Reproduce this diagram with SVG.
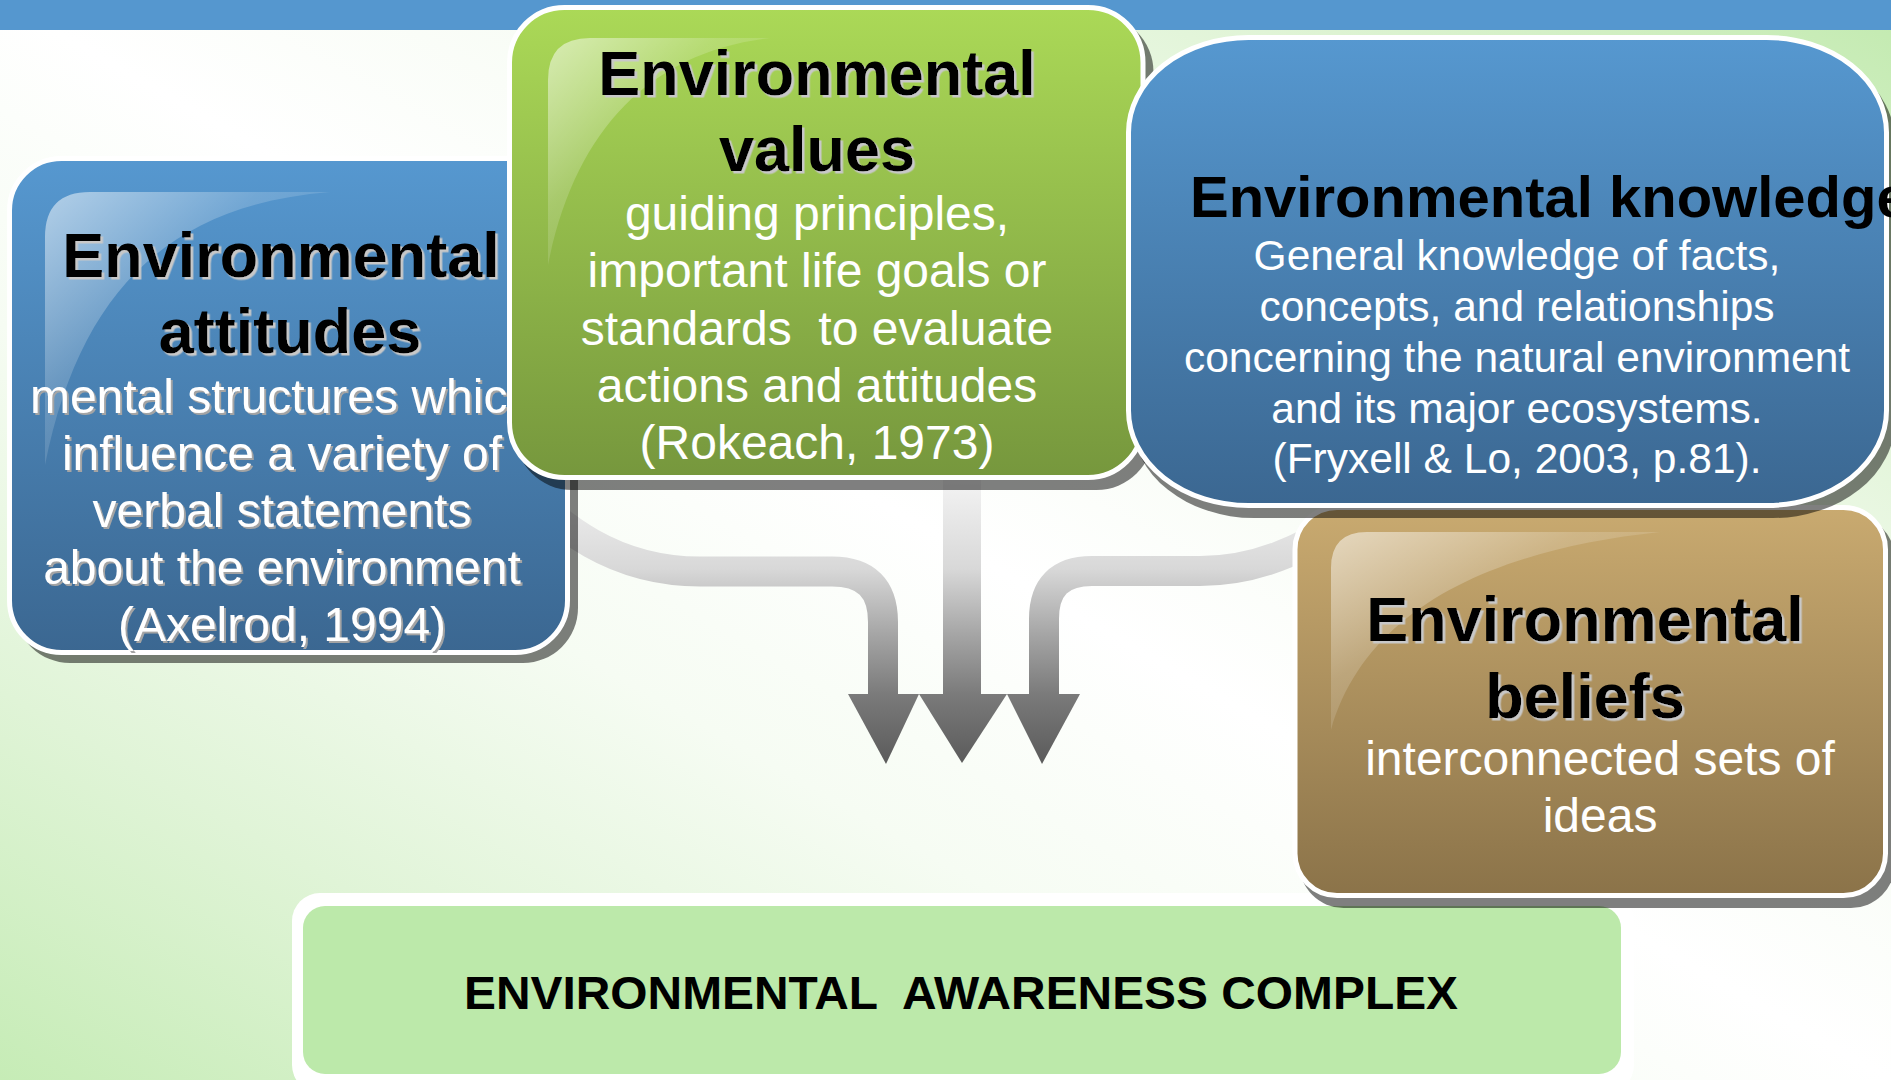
<svg xmlns="http://www.w3.org/2000/svg" width="1891" height="1080" viewBox="0 0 1891 1080">
  <defs>
    <linearGradient id="bg" x1="0" y1="1" x2="1" y2="0">
      <stop offset="0" stop-color="#c6ecb6"/>
      <stop offset="0.18" stop-color="#e0f4d7"/>
      <stop offset="0.35" stop-color="#f6fcf3"/>
      <stop offset="0.5" stop-color="#ffffff"/>
      <stop offset="0.65" stop-color="#f7fcf4"/>
      <stop offset="0.82" stop-color="#e0f4d6"/>
      <stop offset="1" stop-color="#c2eaaf"/>
    </linearGradient>
    <linearGradient id="gBlue" x1="0" y1="0" x2="0" y2="1">
      <stop offset="0" stop-color="#5698d0"/>
      <stop offset="1" stop-color="#3b6791"/>
    </linearGradient>
    <linearGradient id="gGreen" x1="0" y1="0" x2="0" y2="1">
      <stop offset="0" stop-color="#abd957"/>
      <stop offset="1" stop-color="#76973d"/>
    </linearGradient>
    <linearGradient id="gTan" x1="0" y1="0" x2="0" y2="1">
      <stop offset="0" stop-color="#c9aa70"/>
      <stop offset="1" stop-color="#8b7349"/>
    </linearGradient>
    <linearGradient id="gloss" x1="0" y1="0" x2="0.75" y2="0.75">
      <stop offset="0" stop-color="#ffffff" stop-opacity="0.55"/>
      <stop offset="0.5" stop-color="#ffffff" stop-opacity="0.18"/>
      <stop offset="1" stop-color="#ffffff" stop-opacity="0.02"/>
    </linearGradient>
    <linearGradient id="flow" gradientUnits="userSpaceOnUse" x1="0" y1="470" x2="0" y2="770">
      <stop offset="0" stop-color="#f6f6f6"/>
      <stop offset="0.33" stop-color="#d8d8d8"/>
      <stop offset="0.55" stop-color="#a5a5a5"/>
      <stop offset="0.75" stop-color="#7a7a7a"/>
      <stop offset="1" stop-color="#585858"/>
    </linearGradient>
    <filter id="shTitle" x="-5%" y="-20%" width="115%" height="150%">
      <feDropShadow dx="2.5" dy="2.5" stdDeviation="0.4" flood-color="#c8c8c8" flood-opacity="1"/>
    </filter>
    <filter id="shBody" x="-5%" y="-20%" width="115%" height="150%">
      <feDropShadow dx="2" dy="2" stdDeviation="0.4" flood-color="#a4a4a4" flood-opacity="1"/>
    </filter>
  </defs>
  <style>
    .frame { stroke: #ffffff; stroke-width: 5; }
    .shadow { fill: #000000; fill-opacity: 0.5; }
    .gloss { fill: url(#gloss); }
    .band { fill: none; stroke: url(#flow); stroke-width: 30; }
    .head { fill: url(#flow); }
    .txt { font-family: "Liberation Sans", Arial, Helvetica, sans-serif; text-anchor: middle; }
    .title { font-weight: bold; font-size: 63px; fill: #000000; filter: url(#shTitle); }
    .body { font-size: 48px; fill: #ffffff; }
    .bodysh { filter: url(#shBody); }
  </style>

  <!-- page background and top strip -->
  <rect x="0" y="0" width="1891" height="1080" fill="url(#bg)"/>
  <rect x="0" y="0" width="1891" height="30" fill="#5597cf"/>

  <!-- flow arrows converging towards the awareness box -->
  <g id="connectors">
    <path class="band" d="M 490,455 C 560,535 620,571.5 700,571.5 L 832,571.5 Q 883,571.5 883,622 L 883,697"/>
    <path class="band" style="stroke-width:38" d="M 962,420 L 962,697"/>
    <path class="band" d="M 1370,505 C 1300,555 1250,571 1200,571 L 1092,571 Q 1044,571 1044,619 L 1044,697"/>
    <polygon class="head" points="848,694 919,694 886,764"/>
    <polygon class="head" points="919,694 1007,694 962,763"/>
    <polygon class="head" points="1007,694 1080,694 1042,764"/>
  </g>

  <!-- bottom: awareness complex -->
  <g id="node-awareness">
    <rect x="292" y="893" width="1342" height="200" rx="28" fill="#ffffff"/>
    <rect x="303" y="906" width="1318" height="168" rx="22" fill="#bce9aa"/>
    <text class="txt" x="961" y="1009" font-size="47" font-weight="bold" fill="#000000" textLength="994" lengthAdjust="spacingAndGlyphs" xml:space="preserve" style="white-space:pre">ENVIRONMENTAL  AWARENESS COMPLEX</text>
  </g>

  <!-- attitudes -->
  <g id="node-attitudes">
    <rect class="shadow" x="15" y="164" width="563" height="499" rx="55"/>
    <rect class="frame" x="9.5" y="158.5" width="558" height="494" rx="52" fill="url(#gBlue)"/>
    <path class="gloss" d="M 45,465 L 45,237 Q 45,192 90,192 L 330,192 C 170,205 80,290 45,465 Z"/>
    <text class="txt title" x="281" y="277">Environmental</text>
    <text class="txt title" x="290" y="353">attitudes</text>
    <text class="txt body bodysh" x="282" y="413">mental structures which</text>
    <text class="txt body bodysh" x="282" y="470">influence a variety of</text>
    <text class="txt body bodysh" x="282" y="527">verbal statements</text>
    <text class="txt body bodysh" x="282" y="584">about the environment</text>
    <text class="txt body bodysh" x="282" y="641">(Axelrod, 1994)</text>
  </g>

  <!-- values -->
  <g id="node-values">
    <rect class="shadow" x="515" y="15" width="638.5" height="475" rx="57"/>
    <rect class="frame" x="509.5" y="7.5" width="633.5" height="470" rx="55" fill="url(#gGreen)"/>
    <path class="gloss" d="M 548,265 L 548,80 Q 548,38 590,38 L 770,38 C 650,52 575,130 548,265 Z"/>
    <text class="txt title" x="817" y="95">Environmental</text>
    <text class="txt title" x="817" y="171">values</text>
    <text class="txt body" x="817" y="230">guiding principles,</text>
    <text class="txt body" x="817" y="287">important life goals or</text>
    <text class="txt body" x="817" y="345" xml:space="preserve" style="white-space:pre">standards  to evaluate</text>
    <text class="txt body" x="817" y="402">actions and attitudes</text>
    <text class="txt body" x="817" y="459">(Rokeach, 1973)</text>
  </g>

  <!-- beliefs -->
  <g id="node-beliefs">
    <rect class="shadow" x="1299.5" y="515" width="595.5" height="393" rx="44"/>
    <rect class="frame" x="1295" y="507.5" width="590.5" height="388" rx="42" fill="url(#gTan)"/>
    <path class="gloss" d="M 1331,730 L 1331,568 Q 1331,532 1367,532 L 1660,532 C 1490,550 1365,610 1331,730 Z"/>
    <text class="txt title" x="1585" y="641">Environmental</text>
    <text class="txt title" x="1585" y="718">beliefs</text>
    <text class="txt body" x="1600" y="775">interconnected sets of</text>
    <text class="txt body" x="1600" y="832">ideas</text>
  </g>

  <!-- knowledge -->
  <g id="node-knowledge">
    <rect class="shadow" x="1132" y="45" width="763" height="473" rx="122" ry="97"/>
    <rect class="frame" x="1128.5" y="37.5" width="758" height="468" rx="120" ry="95" fill="url(#gBlue)"/>
    <text class="txt" x="1190" y="217" font-size="58" font-weight="bold" fill="#000000" style="text-anchor:start">Environmental knowledge</text>
    <text class="txt" x="1517" y="270" font-size="42.5" fill="#ffffff">General knowledge of facts,</text>
    <text class="txt" x="1517" y="321" font-size="42.5" fill="#ffffff">concepts, and relationships</text>
    <text class="txt" x="1517" y="372" font-size="42.5" fill="#ffffff">concerning the natural environment</text>
    <text class="txt" x="1517" y="423" font-size="42.5" fill="#ffffff">and its major ecosystems.</text>
    <text class="txt" x="1517" y="473" font-size="42.5" fill="#ffffff">(Fryxell &amp; Lo, 2003, p.81).</text>
  </g>
</svg>
